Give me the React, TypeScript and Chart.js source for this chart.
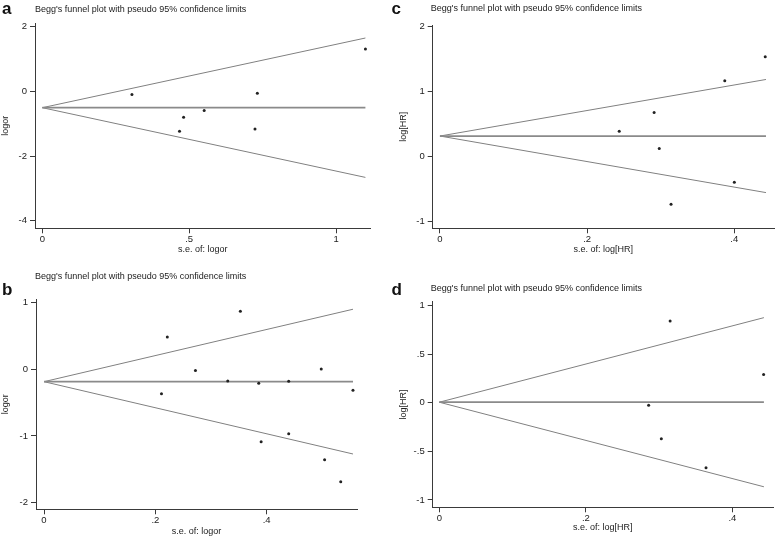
import React, { useEffect, useRef } from "react";
import { Chart, registerables } from "chart.js";

Chart.register(...registerables);

const FONT = "'Liberation Sans', Arial, Helvetica, sans-serif";
const PLOT_TITLE = "Begg's funnel plot with pseudo 95% confidence limits";

// ---------- Panel a ----------
const aSE = [0.305, 0.467, 0.481, 0.551, 0.724, 0.732, 1.1];
const aLogOR = [-0.1, -1.23, -0.8, -0.59, -1.16, -0.06, 1.31];
const aLimitSE = [0, 1.1];
const aPooled = [-0.505, -0.505];
const aUpper = [-0.505, 1.65];
const aLower = [-0.505, -2.66];
const aXTicks = [0, 0.5, 1];
const aXTickLabels = ["0", ".5", "1"];
const aYTicks = [-4, -2, 0, 2];
const aYTickLabels = ["-4", "-2", "0", "2"];

// ---------- Panel b ----------
const bSE = [0.211, 0.2215, 0.272, 0.33, 0.3527, 0.3857, 0.39, 0.4395, 0.4395, 0.498, 0.504, 0.533, 0.555];
const bLogOR = [-0.366, 0.484, -0.02, -0.175, 0.87, -0.21, -1.085, -0.18, -0.965, 0.005, -1.355, -1.685, -0.315];
const bLimitSE = [0, 0.555];
const bPooled = [-0.186, -0.186];
const bUpper = [-0.186, 0.9];
const bLower = [-0.186, -1.27];
const bXTicks = [0, 0.2, 0.4];
const bXTickLabels = ["0", ".2", ".4"];
const bYTicks = [-2, -1, 0, 1];
const bYTickLabels = ["-2", "-1", "0", "1"];

// ---------- Panel c ----------
const cSE = [0.2436, 0.291, 0.298, 0.314, 0.387, 0.4, 0.442];
const cLogHR = [0.385, 0.672, 0.118, -0.738, 1.16, -0.4, 1.53];
const cLimitSE = [0, 0.443];
const cPooled = [0.31, 0.31];
const cUpper = [0.31, 1.18];
const cLower = [0.31, -0.56];
const cXTicks = [0, 0.2, 0.4];
const cXTickLabels = ["0", ".2", ".4"];
const cYTicks = [-1, 0, 1, 2];
const cYTickLabels = ["-1", "0", "1", "2"];

// ---------- Panel d ----------
const dSE = [0.2857, 0.303, 0.315, 0.364, 0.4426];
const dLogHR = [-0.027, -0.37, 0.84, -0.67, 0.29];
const dLimitSE = [0, 0.443];
const dPooled = [0.005, 0.005];
const dUpper = [0.005, 0.875];
const dLower = [0.005, -0.865];
const dXTicks = [0, 0.2, 0.4];
const dXTickLabels = ["0", ".2", ".4"];
const dYTicks = [-1, -0.5, 0, 0.5, 1];
const dYTickLabels = ["-1", "-.5", "0", ".5", "1"];

type PanelCfg = {
  letter: string;
  left: number;
  top: number;
  width: number;
  height: number;
  se: number[];
  est: number[];
  limSE: number[];
  pooled: number[];
  upper: number[];
  lower: number[];
  xTicks: number[];
  xLabels: string[];
  yTicks: number[];
  yLabels: string[];
  xTitle: string;
  yTitle: string;
  xMin: number;
  xMax: number;
  yMin: number;
  yMax: number;
  yAxisWidth: number;
  xAxisHeight: number;
  padTop: number;
  padRight: number;
  padBottom: number;
  yTitlePad: number;
  letterX: number;
  letterY: number;
  titleX: number;
  titleY: number;
};

const PANELS: PanelCfg[] = [
  {
    letter: "a", left: 0, top: 0, width: 389, height: 269,
    se: aSE, est: aLogOR, limSE: aLimitSE, pooled: aPooled, upper: aUpper, lower: aLower,
    xTicks: aXTicks, xLabels: aXTickLabels, yTicks: aYTicks, yLabels: aYTickLabels,
    xTitle: "s.e. of: logor", yTitle: "logor",
    xMin: -0.025, xMax: 1.118, yMin: -4.234, yMax: 2.114,
    yAxisWidth: 35, xAxisHeight: 26.4, padTop: 23, padRight: 18.3, padBottom: 14.3, yTitlePad: 0,
    letterX: 2, letterY: 13.5, titleX: 35, titleY: 12.3,
  },
  {
    letter: "c", left: 389, top: 0, width: 389, height: 269,
    se: cSE, est: cLogHR, limSE: cLimitSE, pooled: cPooled, upper: cUpper, lower: cLower,
    xTicks: cXTicks, xLabels: cXTickLabels, yTicks: cYTicks, yLabels: cYTickLabels,
    xTitle: "s.e. of: log[HR]", yTitle: "log[HR]",
    xMin: -0.00984, xMax: 0.4539, yMin: -1.109, yMax: 2.018,
    yAxisWidth: 43.7, xAxisHeight: 27.1, padTop: 25, padRight: 1.3, padBottom: 13.6, yTitlePad: 8.9,
    letterX: 2.5, letterY: 13.5, titleX: 41.7, titleY: 10.7,
  },
  {
    letter: "b", left: 0, top: 269, width: 389, height: 270,
    se: bSE, est: bLogOR, limSE: bLimitSE, pooled: bPooled, upper: bUpper, lower: bLower,
    xTicks: bXTicks, xLabels: bXTickLabels, yTicks: bYTicks, yLabels: bYTickLabels,
    xTitle: "s.e. of: logor", yTitle: "logor",
    xMin: -0.01437, xMax: 0.5622, yMin: -2.099, yMax: 1.049,
    yAxisWidth: 36, xAxisHeight: 27.8, padTop: 30.3, padRight: 32, padBottom: 1.9, yTitlePad: 0.6,
    letterX: 2, letterY: 26, titleX: 35, titleY: 10,
  },
  {
    letter: "d", left: 389, top: 269, width: 389, height: 270,
    se: dSE, est: dLogHR, limSE: dLimitSE, pooled: dPooled, upper: dUpper, lower: dLower,
    xTicks: dXTicks, xLabels: dXTickLabels, yTicks: dYTicks, yLabels: dYTickLabels,
    xTitle: "s.e. of: log[HR]", yTitle: "log[HR]",
    xMin: -0.00898, xMax: 0.4554, yMin: -1.076, yMax: 1.039,
    yAxisWidth: 43.7, xAxisHeight: 25.3, padTop: 32.7, padRight: 5, padBottom: 6.4, yTitlePad: 8.9,
    letterX: 2.5, letterY: 26, titleX: 41.7, titleY: 21.7,
  },
];

const panelTextPlugin = {
  id: "panelText",
  afterDraw(chart: any, _args: any, opts: any) {
    const ctx = chart.ctx;
    ctx.save();
    ctx.fillStyle = "#111";
    ctx.textBaseline = "alphabetic";
    ctx.textAlign = "left";
    ctx.font = `bold 17px ${FONT}`;
    ctx.fillText(opts.letter, opts.letterX, opts.letterY);
    ctx.font = `9px ${FONT}`;
    ctx.fillStyle = "#222";
    ctx.fillText(opts.title, opts.titleX, opts.titleY);
    ctx.restore();
  },
};

const toPoints = (xs: number[], ys: number[]) => xs.map((x, i) => ({ x, y: ys[i] }));

function Panel({ cfg }: { cfg: PanelCfg }) {
  const ref = useRef<HTMLCanvasElement | null>(null);
  useEffect(() => {
    if (!ref.current) return;
    const axisColor = "#3a3a3a";
    const chart = new Chart(ref.current, {
      type: "scatter",
      data: {
        datasets: [
          {
            data: toPoints(cfg.limSE, cfg.upper),
            showLine: true,
            borderColor: "#808080",
            borderWidth: 1,
            pointRadius: 0,
            order: 3,
          },
          {
            data: toPoints(cfg.limSE, cfg.lower),
            showLine: true,
            borderColor: "#808080",
            borderWidth: 1,
            pointRadius: 0,
            order: 3,
          },
          {
            data: toPoints(cfg.limSE, cfg.pooled),
            showLine: true,
            borderColor: "#8a8a8a",
            borderWidth: 1.8,
            pointRadius: 0,
            order: 2,
          },
          {
            data: toPoints(cfg.se, cfg.est),
            showLine: false,
            pointRadius: 1.5,
            pointBackgroundColor: "#222",
            pointBorderWidth: 0,
            order: 0,
          },
        ],
      } as any,
      options: {
        animation: false,
        responsive: true,
        maintainAspectRatio: false,
        events: [],
        layout: {
          padding: { top: cfg.padTop, right: cfg.padRight, bottom: cfg.padBottom, left: 0 },
        },
        plugins: {
          legend: { display: false },
          tooltip: { enabled: false },
          panelText: {
            letter: cfg.letter,
            letterX: cfg.letterX,
            letterY: cfg.letterY,
            title: PLOT_TITLE,
            titleX: cfg.titleX,
            titleY: cfg.titleY,
          },
        } as any,
        scales: {
          x: {
            type: "linear",
            position: "bottom",
            min: cfg.xMin,
            max: cfg.xMax,
            afterBuildTicks: (s: any) => {
              s.ticks = cfg.xTicks.map((v) => ({ value: v }));
            },
            afterFit: (s: any) => {
              s.height = cfg.xAxisHeight;
            },
            ticks: {
              autoSkip: false,
              maxRotation: 0,
              padding: 0.5,
              color: "#222",
              font: { size: 9.5, family: FONT },
              callback: (_v: any, i: number) => cfg.xLabels[i],
            },
            grid: { drawOnChartArea: false, drawTicks: true, tickLength: 5, color: axisColor, lineWidth: 1 },
            border: { display: true, color: axisColor, width: 1 },
            title: {
              display: true,
              text: cfg.xTitle,
              padding: 0,
              color: "#222",
              font: { size: 9, family: FONT },
            },
          },
          y: {
            type: "linear",
            position: "left",
            min: cfg.yMin,
            max: cfg.yMax,
            afterBuildTicks: (s: any) => {
              s.ticks = cfg.yTicks.map((v) => ({ value: v }));
            },
            afterFit: (s: any) => {
              s.width = cfg.yAxisWidth;
            },
            ticks: {
              autoSkip: false,
              padding: 3,
              color: "#222",
              font: { size: 9.5, family: FONT },
              callback: (_v: any, i: number) => cfg.yLabels[i],
            },
            grid: { drawOnChartArea: false, drawTicks: true, tickLength: 5, color: axisColor, lineWidth: 1 },
            border: { display: true, color: axisColor, width: 1 },
            title: {
              display: true,
              text: cfg.yTitle,
              padding: { top: cfg.yTitlePad, bottom: 0 },
              color: "#222",
              font: { size: 9, family: FONT },
            },
          },
        },
      } as any,
      plugins: [panelTextPlugin as any],
    });
    return () => chart.destroy();
  }, [cfg]);

  return (
    <div
      style={{
        position: "absolute",
        left: cfg.left,
        top: cfg.top,
        width: cfg.width,
        height: cfg.height,
      }}
    >
      <canvas ref={ref} />
    </div>
  );
}

export default function App() {
  return (
    <div
      style={{
        position: "absolute",
        left: 0,
        top: 0,
        width: 778,
        height: 539,
        background: "#fff",
        overflow: "hidden",
      }}
    >
      {PANELS.map((p) => (
        <Panel key={p.letter} cfg={p} />
      ))}
    </div>
  );
}
